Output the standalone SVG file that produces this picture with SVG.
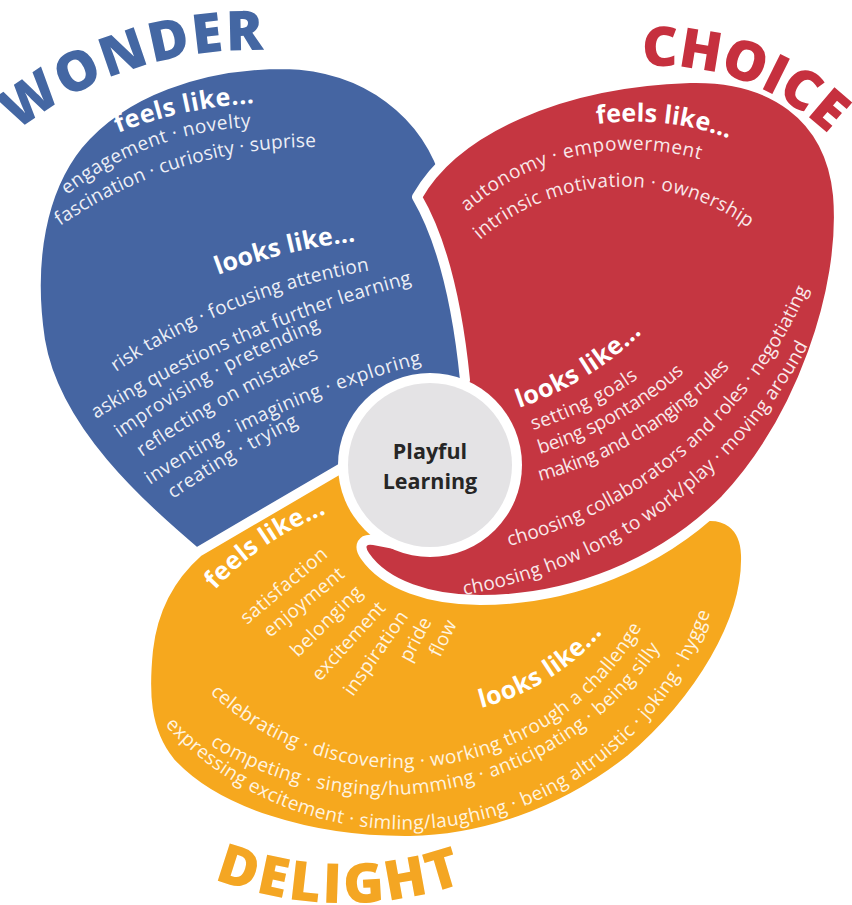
<svg xmlns="http://www.w3.org/2000/svg" width="852" height="905" viewBox="0 0 852 905">
<style>
.lobe{stroke:#fff;stroke-width:10;stroke-linejoin:round}
.title{font-family:"Open Sans","Liberation Sans",sans-serif;font-weight:800;font-size:55px}
.hdr{font-family:"Open Sans","Liberation Sans",sans-serif;font-weight:700;font-size:25px;fill:#fff}
.body{font-family:"Open Sans","Liberation Sans",sans-serif;font-weight:500;font-size:19px}
.tb{fill:#EDEFF6}.tr{fill:#F9E8EA}.ty{fill:#FFF4E0}
</style>
<defs>
<path id="pT1" d="M16.6,131.4 A384,384 0 0 1 266.4,50.2"/>
<path id="pT2" d="M642,66.6 A244,244 0 0 1 830,136"/>
<path id="pT3" d="M214,879 A363,363 0 0 0 466,882"/>
<path id="pB1" d="M118,133 A450,450 0 0 1 256,103"/>
<path id="pB2" d="M67,195 A317,317 0 0 1 253,127"/>
<path id="pB3" d="M60,226 A448,448 0 0 1 318,147"/>
<path id="pB4" d="M218,275 A600,600 0 0 1 358,241"/>
<path id="pB5" d="M116,372 A650,650 0 0 1 372,270"/>
<path id="pB6" d="M96,419 A1150,1150 0 0 1 414,283"/>
<path id="pB7" d="M120,438 A1000,1000 0 0 1 323,328"/>
<path id="pB8" d="M142,457 A1000,1000 0 0 1 321,358"/>
<path id="pB9" d="M150,485 A900,900 0 0 1 424,363"/>
<path id="pB10" d="M173,499 A1000,1000 0 0 1 301,424"/>
<path id="pR1" d="M597,124 A280,280 0 0 1 731,139"/>
<path id="pR2" d="M467,212 A248,248 0 0 1 702,160"/>
<path id="pR3" d="M480,240 A215,215 0 0 1 750,229"/>
<path id="pR4" d="M519,408 A330,330 0 0 0 643,332"/>
<path id="pR5" d="M533,430 A360,360 0 0 0 640,377"/>
<path id="pR6" d="M540,454 A385,385 0 0 0 686,371"/>
<path id="pR7" d="M540,481 A410,410 0 0 0 731,366"/>
<path id="pR8" d="M509,546 A450,450 0 0 0 809,287"/>
<path id="pR9" d="M464,595 A485,485 0 0 0 811,340"/>
<path id="pY1" d="M215,590 A300,300 0 0 1 328,513"/>
<path id="pY2" d="M247,625 L330,555"/>
<path id="pY3" d="M270,638 L347,575"/>
<path id="pY4" d="M298,658 L365,592"/>
<path id="pY5" d="M320,682 L388,607"/>
<path id="pY6" d="M353,697 L410,615"/>
<path id="pY7" d="M410,663 L433,620"/>
<path id="pY8" d="M440,658 L458,622"/>
<path id="pY9" d="M481,708 A240,240 0 0 0 604,631"/>
<path id="pY10" d="M210,693 A278,278 0 0 0 643,625"/>
<path id="pY11" d="M210,745 A331,331 0 0 0 662,645"/>
<path id="pY12" d="M165,725 A325,325 0 0 0 711,610"/>
</defs>
<rect width="852" height="905" fill="#fff"/>
<g id="wonder">
<path class="lobe" fill="#4565A2" d="M200,556 C140,505 55,430 40,340 C28,260 42,190 78,145 C122,92 200,64 285,64 C365,66 428,112 448,185 L470,300 L478,420 L360,480 Z"/>
<text class="title" fill="#4467A3"><textPath href="#pT1" textLength="265">WONDER</textPath></text>
<text class="hdr"><textPath href="#pB1" textLength="140">feels like...</textPath></text>
<text class="body tb"><textPath href="#pB2" textLength="199">engagement · novelty</textPath></text>
<text class="body tb"><textPath href="#pB3" textLength="272">fascination · curiosity · suprise</textPath></text>
<text class="hdr"><textPath href="#pB4" textLength="142">looks like...</textPath></text>
<text class="body tb"><textPath href="#pB5" textLength="275">risk taking · focusing attention</textPath></text>
<text class="body tb"><textPath href="#pB6" textLength="345">asking questions that further learning</textPath></text>
<text class="body tb"><textPath href="#pB7" textLength="229">improvising · pretending</textPath></text>
<text class="body tb"><textPath href="#pB8" textLength="203">reflecting on mistakes</textPath></text>
<text class="body tb"><textPath href="#pB9" textLength="299">inventing · imagining  · exploring</textPath></text>
<text class="body tb"><textPath href="#pB10" textLength="146">creating  · trying</textPath></text>
</g>
<g id="delight">
<path class="lobe" fill="#F6A81E" d="M148,650 C153,605 172,575 198,552 L345,466 L440,470 L560,560 L700,517 C725,512 745,525 746,555 C748,620 700,700 630,760 C560,815 480,840 410,841 C310,842 215,812 170,762 C144,730 144,690 148,650 Z"/>
<text class="title" fill="#F4A623"><textPath href="#pT3" textLength="254">DELIGHT</textPath></text>
<text class="hdr"><textPath href="#pY1" textLength="136">feels like...</textPath></text>
<text class="body ty"><textPath href="#pY2" textLength="107">satisfaction</textPath></text>
<text class="body ty"><textPath href="#pY3" textLength="98">enjoyment</textPath></text>
<text class="body ty"><textPath href="#pY4" textLength="92">belonging</textPath></text>
<text class="body ty"><textPath href="#pY5" textLength="99">excitement</textPath></text>
<text class="body ty"><textPath href="#pY6" textLength="98">inspiration</textPath></text>
<text class="body ty"><textPath href="#pY7" textLength="47">pride</textPath></text>
<text class="body ty"><textPath href="#pY8" textLength="38">flow</textPath></text>
<text class="hdr"><textPath href="#pY9" textLength="145">looks like...</textPath></text>
<text class="body ty"><textPath href="#pY10" textLength="502">celebrating · discovering · working through a challenge</textPath></text>
<text class="body ty"><textPath href="#pY11" textLength="509">competing · singing/humming · anticipating · being silly</textPath></text>
<text class="body ty"><textPath href="#pY12" textLength="668">expressing excitement · simling/laughing · being altruistic · joking · hygge</textPath></text>
</g>
<g id="choice">
<path class="lobe" fill="#C53641" d="M417,197 C455,130 560,82 690,78 C770,76 830,115 838,195 C846,290 800,420 725,500 C660,565 570,600 480,600 C430,600 385,585 365,556 C358,546 362,538 374,540 L400,545 L430,470 L465,380 C458,310 445,245 417,197 Z"/>
<text class="title" fill="#C6303E"><textPath href="#pT2" textLength="204">CHOICE</textPath></text>
<text class="hdr"><textPath href="#pR1" textLength="134">feels like...</textPath></text>
<text class="body tr"><textPath href="#pR2" textLength="249">autonomy · empowerment</textPath></text>
<text class="body tr"><textPath href="#pR3" textLength="290">intrinsic motivation · ownership</textPath></text>
<text class="hdr"><textPath href="#pR4" textLength="145">looks like...</textPath></text>
<text class="body tr"><textPath href="#pR5" textLength="118">setting goals</textPath></text>
<text class="body tr"><textPath href="#pR6" textLength="167">being spontaneous</textPath></text>
<text class="body tr"><textPath href="#pR7" textLength="224">making and changing rules</textPath></text>
<text class="body tr"><textPath href="#pR8" textLength="408">choosing collaborators and roles · negotiating</textPath></text>
<text class="body tr"><textPath href="#pR9" textLength="440">choosing how long to work/play · moving around</textPath></text>
</g>
<g id="center">
<circle cx="430" cy="465" r="92" fill="#fff"/>
<circle cx="430" cy="465" r="82" fill="#E4E3E5"/>
<text x="430" y="459" text-anchor="middle" font-family="'Open Sans','Liberation Sans',sans-serif" font-weight="700" font-size="21.5" fill="#262626">Playful</text>
<text x="430" y="489" text-anchor="middle" font-family="'Open Sans','Liberation Sans',sans-serif" font-weight="700" font-size="21.5" fill="#262626">Learning</text>
</g>
<g id="connectors"/>
</svg>
